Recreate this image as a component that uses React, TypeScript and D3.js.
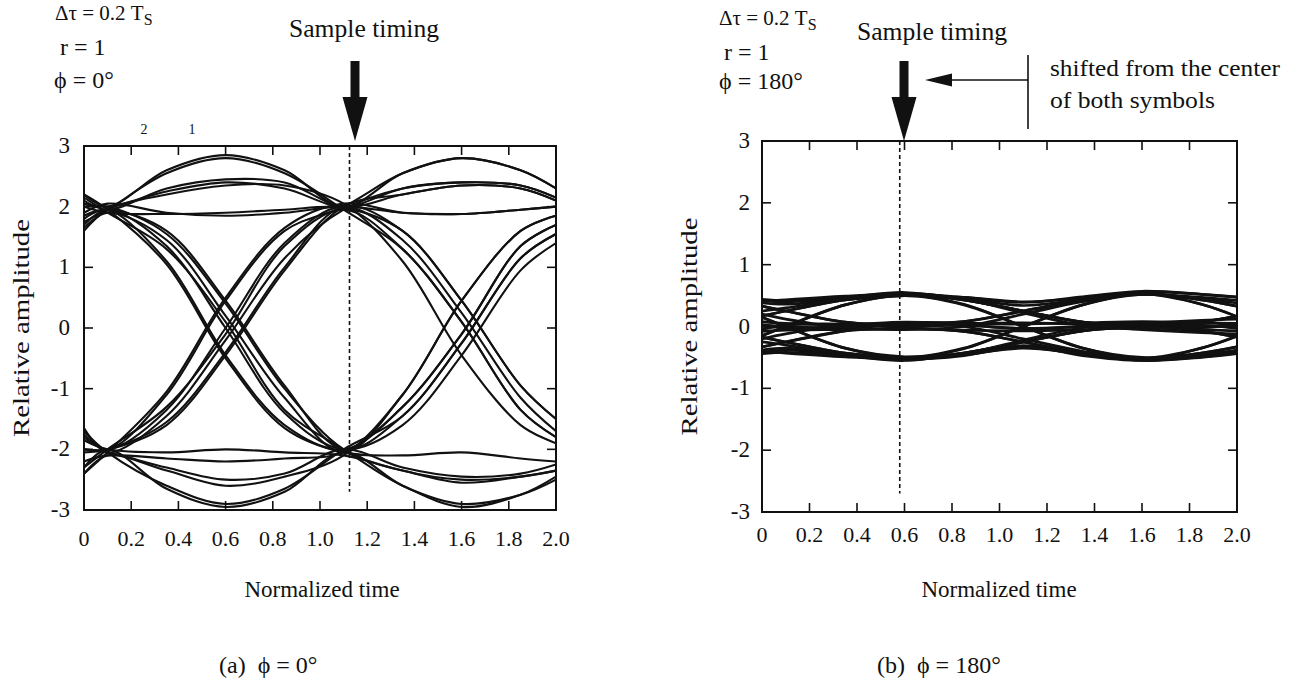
import React from "react";
import * as d3 from "d3";

// Sample instants (normalized time) at which each trace value was read
const TIMES = [0, 0.1, 0.35, 0.6, 0.85, 1.1, 1.35, 1.6, 1.85, 2.0];

// (a) phi = 0 deg : eye traces (relative amplitude at TIMES)
const TRACES_A: number[][] = [
  [2.2, 2.0, 2.6, 2.85, 2.6, 2.0, 2.55, 2.8, 2.6, 2.3],
  [1.75, 1.95, 2.55, 2.8, 2.55, 1.95, 1.3, 0.1, -1.35, -1.8],
  [2.05, 2.0, 2.25, 2.4, 2.3, 2.0, 2.3, 2.4, 2.35, 2.15],
  [1.6, 1.95, 2.2, 2.35, 2.35, 2.05, 1.1, -0.45, -1.6, -1.9],
  [2.1, 1.95, 2.3, 2.45, 2.4, 2.0, 2.2, 2.35, 2.3, 2.1],
  [1.9, 2.05, 1.9, 1.85, 1.9, 2.0, 1.9, 1.88, 1.95, 2.0],
  [2.0, 1.9, 1.88, 1.9, 1.95, 1.98, 1.6, 0.45, -0.95, -1.5],
  [1.8, 1.95, 1.1, -0.45, -1.6, -2.0, -1.3, -0.1, 1.35, 1.7],
  [2.15, 1.9, 1.3, 0.1, -1.35, -2.0, -2.6, -2.9, -2.75, -2.5],
  [1.65, 1.9, 1.45, 0.2, -1.15, -2.05, -1.1, 0.45, 1.6, 1.85],
  [2.0, 2.0, 1.55, 0.4, -1.0, -2.0, -2.35, -2.5, -2.45, -2.35],
  [1.7, 1.95, 1.35, 0.0, -1.4, -2.0, -1.6, -0.45, 0.95, 1.4],
  [2.2, 1.95, 1.05, -0.5, -1.65, -2.05, -2.1, -2.05, -2.15, -2.2],
  [1.85, 1.95, 1.6, 0.45, -0.95, -2.0, -1.45, -0.25, 1.15, 1.55],
  [-2.3, -2.0, -2.65, -2.95, -2.7, -2.05, -2.6, -2.95, -2.75, -2.45],
  [-1.7, -2.05, -2.6, -2.9, -2.65, -2.0, -1.45, -0.25, 1.15, 1.55],
  [-2.0, -2.05, -2.3, -2.5, -2.4, -2.0, -2.3, -2.45, -2.4, -2.25],
  [-2.4, -2.1, -2.35, -2.6, -2.45, -2.1, -1.1, 0.45, 1.6, 1.85],
  [-1.85, -2.0, -2.05, -2.0, -2.05, -2.1, -2.35, -2.55, -2.45, -2.35],
  [-2.2, -2.1, -2.15, -2.2, -2.15, -2.05, -1.3, -0.1, 1.35, 1.7],
  [-1.75, -2.0, -1.1, 0.45, 1.6, 2.0, 2.55, 2.8, 2.6, 2.3],
  [-2.3, -2.0, -1.3, -0.1, 1.35, 1.95, 1.3, 0.1, -1.35, -1.8],
  [-1.65, -2.05, -1.45, -0.2, 1.15, 1.95, 2.3, 2.4, 2.35, 2.15],
  [-2.05, -2.0, -1.55, -0.4, 1.0, 2.0, 1.6, 0.45, -0.95, -1.5],
  [-2.4, -2.05, -1.05, 0.5, 1.65, 2.05, 1.9, 1.88, 1.95, 2.0],
  [-1.8, -2.0, -1.35, 0.0, 1.4, 2.0, 1.45, 0.25, -1.15, -1.7],
  [-2.0, -2.0, -1.6, -0.45, 0.95, 2.0, 2.2, 2.35, 2.3, 2.1],
];

// (b) phi = 180 deg : eye traces
const TRACES_B: number[][] = [
  [0.42, 0.4, 0.46, 0.53, 0.47, 0.39, 0.48, 0.57, 0.52, 0.47],
  [0.17, 0.25, 0.43, 0.52, 0.43, 0.25, 0.07, 0.02, 0.08, 0.17],
  [-0.15, 0.0, 0.35, 0.5, 0.35, 0.0, -0.35, -0.52, -0.43, -0.33],
  [0.33, 0.25, 0.07, 0.02, 0.08, 0.25, 0.43, 0.55, 0.36, 0.16],
  [0.03, 0.0, -0.02, 0.04, 0.02, -0.03, 0.0, 0.05, 0.02, -0.02],
  [-0.42, -0.38, -0.47, -0.53, -0.47, -0.31, -0.47, -0.55, -0.49, -0.43],
  [-0.17, -0.25, -0.43, -0.52, -0.43, -0.25, -0.07, -0.02, -0.08, -0.17],
  [0.15, 0.0, -0.35, -0.5, -0.35, 0.0, 0.35, 0.53, 0.43, 0.33],
  [-0.33, -0.25, -0.07, -0.03, -0.08, -0.25, -0.43, -0.54, -0.35, -0.16],
  [0.44, 0.42, 0.47, 0.55, 0.43, 0.25, 0.07, 0.0, -0.02, 0.03],
  [-0.44, -0.42, -0.47, -0.55, -0.43, -0.25, -0.07, 0.0, 0.07, 0.17],
  [0.0, -0.02, 0.0, 0.05, 0.08, 0.25, 0.43, 0.56, 0.52, 0.48],
  [-0.05, 0.02, 0.04, -0.02, -0.08, -0.25, -0.43, -0.55, -0.5, -0.44],
  [0.33, 0.25, 0.07, 0.0, 0.02, -0.04, 0.0, 0.05, -0.07, -0.17],
  [-0.33, -0.25, -0.07, 0.06, 0.05, 0.06, 0.03, -0.04, 0.07, 0.17],
  [0.17, 0.25, 0.43, 0.5, 0.47, 0.4, 0.46, 0.53, 0.36, 0.16],
  [-0.17, -0.25, -0.43, -0.5, -0.46, -0.34, -0.45, -0.52, -0.35, -0.15],
  [0.15, 0.0, -0.35, -0.49, -0.43, -0.25, -0.07, 0.03, 0.02, -0.03],
  [-0.15, 0.0, 0.35, 0.51, 0.43, 0.25, 0.07, -0.03, 0.0, 0.04],
  [0.4, 0.43, 0.49, 0.52, 0.36, 0.0, -0.35, -0.5, -0.43, -0.33],
  [-0.4, -0.43, -0.49, -0.52, -0.36, 0.0, 0.35, 0.52, 0.43, 0.33],
  [0.38, 0.36, 0.44, 0.5, 0.45, 0.34, 0.44, 0.52, 0.47, 0.42],
  [-0.38, -0.35, -0.44, -0.5, -0.45, -0.35, -0.44, -0.52, -0.46, -0.4],
  [0.08, 0.05, 0.03, 0.07, 0.05, 0.04, 0.06, 0.08, 0.06, 0.05],
  [-0.08, -0.06, -0.05, -0.04, -0.06, -0.07, -0.05, -0.02, -0.05, -0.07],
  [0.25, 0.3, 0.45, 0.54, 0.44, 0.22, 0.02, -0.05, -0.1, -0.12],
  [-0.25, -0.3, -0.45, -0.54, -0.44, -0.22, -0.02, 0.05, 0.1, 0.12],
  [0.2, 0.12, -0.02, -0.05, 0.0, 0.2, 0.4, 0.52, 0.45, 0.38],
  [-0.2, -0.12, 0.02, 0.05, 0.0, -0.2, -0.4, -0.52, -0.45, -0.38],
];

const X_TICKS = [0, 0.2, 0.4, 0.6, 0.8, 1.0, 1.2, 1.4, 1.6, 1.8, 2.0];
const X_TICK_LABELS = ["0", "0.2", "0.4", "0.6", "0.8", "1.0", "1.2", "1.4", "1.6", "1.8", "2.0"];
const Y_TICKS = [3, 2, 1, 0, -1, -2, -3];
const Y_TICK_LABELS = ["3", "2", "1", "0", "-1", "-2", "-3"];

const SAMPLE_A = 1.125;
const SAMPLE_B = 0.58;

const FONT = "'Liberation Serif', 'Times New Roman', serif";

type PanelProps = {
  traces: number[][];
  xRange: [number, number];
  yRange: [number, number];
  sample: number;
  dashEnd: number;
  strokeW: number;
  id: string;
  yLabelX: number;
  yTitleX: number;
  xLabelY: number;
  xTitleX: number;
};

function Panel(p: PanelProps) {
  const x = d3.scaleLinear().domain([0, 2]).range(p.xRange);
  const y = d3.scaleLinear().domain([-3, 3]).range(p.yRange);
  const line = d3
    .line<number>()
    .x((_, i) => x(TIMES[i]))
    .y((d) => y(d))
    .curve(d3.curveCatmullRom.alpha(0.5));
  const [x0, x1] = p.xRange;
  const [yb, yt] = p.yRange;
  const tl = 9;
  const inner = X_TICKS.slice(1, -1);
  const innerY = Y_TICKS.slice(1, -1);
  return (
    <g>
      <defs>
        <clipPath id={p.id}>
          <rect x={x0} y={yt} width={x1 - x0} height={yb - yt} />
        </clipPath>
      </defs>
      <g clipPath={`url(#${p.id})`}>
        {p.traces.map((t, i) => (
          <path key={i} d={line(t) || ""} fill="none" stroke="#111" strokeWidth={p.strokeW} />
        ))}
      </g>
      <line
        x1={x(p.sample)}
        x2={x(p.sample)}
        y1={yt}
        y2={y(p.dashEnd)}
        stroke="#111"
        strokeWidth={1.6}
        strokeDasharray="4 3"
      />
      <rect x={x0} y={yt} width={x1 - x0} height={yb - yt} fill="none" stroke="#111" strokeWidth={2} />
      {inner.map((v) => (
        <g key={"xt" + v}>
          <line x1={x(v)} x2={x(v)} y1={yt} y2={yt + tl} stroke="#111" strokeWidth={1.6} />
          <line x1={x(v)} x2={x(v)} y1={yb} y2={yb - tl} stroke="#111" strokeWidth={1.6} />
        </g>
      ))}
      {innerY.map((v) => (
        <g key={"yt" + v}>
          <line x1={x0} x2={x0 + tl} y1={y(v)} y2={y(v)} stroke="#111" strokeWidth={1.6} />
          <line x1={x1} x2={x1 - tl} y1={y(v)} y2={y(v)} stroke="#111" strokeWidth={1.6} />
        </g>
      ))}
      {Y_TICKS.map((v, i) => (
        <text key={"yl" + v} x={p.yLabelX} y={y(v) + 7} textAnchor="end" fontSize={23} fontFamily={FONT} fill="#111">
          {Y_TICK_LABELS[i]}
        </text>
      ))}
      {X_TICKS.map((v, i) => (
        <text key={"xl" + v} x={x(v)} y={p.xLabelY} textAnchor="middle" fontSize={22} fontFamily={FONT} fill="#111">
          {X_TICK_LABELS[i]}
        </text>
      ))}
      <text
        transform={`translate(${p.yTitleX},${(yt + yb) / 2}) rotate(-90)`}
        textAnchor="middle"
        fontSize={24}
        fontFamily={FONT}
        fill="#111"
        textLength={218}
        lengthAdjust="spacingAndGlyphs"
      >
        Relative amplitude
      </text>
      <text x={p.xTitleX} y={597} textAnchor="middle" fontSize={23} fontFamily={FONT} fill="#111">
        Normalized time
      </text>
    </g>
  );
}

function DownArrow({ cx }: { cx: number }) {
  return (
    <g fill="#111">
      <rect x={cx - 4.5} y={61} width={9} height={38} />
      <polygon points={`${cx - 12.5},97 ${cx + 12.5},97 ${cx},141`} />
    </g>
  );
}

export default function App() {
  return (
    <svg width={1303} height={680} style={{ position: "absolute", left: 0, top: 0, background: "#fff" }}>
      <rect x={0} y={0} width={1303} height={680} fill="#fff" />
      {/* Panel (a) */}
      <Panel
        traces={TRACES_A}
        xRange={[84, 556]}
        yRange={[510, 146]}
        sample={SAMPLE_A}
        dashEnd={-2.7}
        strokeW={2.1}
        id="clipA"
        yLabelX={70}
        yTitleX={29}
        xLabelY={546}
        xTitleX={322}
      />
      {/* Panel (b) */}
      <Panel
        traces={TRACES_B}
        xRange={[762, 1237]}
        yRange={[512, 141]}
        sample={SAMPLE_B}
        dashEnd={-2.7}
        strokeW={2.7}
        id="clipB"
        yLabelX={750}
        yTitleX={697}
        xLabelY={542}
        xTitleX={999}
      />

      {/* annotations (a) */}
      <g fontFamily={FONT} fill="#111">
        <text x={55} y={20} fontSize={21}>
          Δτ = 0.2 T<tspan fontSize={16} dy={5}>S</tspan>
        </text>
        <text x={60} y={55} fontSize={24}>r = 1</text>
        <text x={54} y={88} fontSize={24}>ϕ = 0°</text>
        <text x={144} y={134} fontSize={14} textAnchor="middle">2</text>
        <text x={192} y={134} fontSize={14} textAnchor="middle">1</text>
        <text x={364} y={37} fontSize={25} textAnchor="middle" textLength={150} lengthAdjust="spacingAndGlyphs">
          Sample timing
        </text>
      </g>
      <DownArrow cx={355} />

      {/* annotations (b) */}
      <g fontFamily={FONT} fill="#111">
        <text x={719} y={25} fontSize={21}>
          Δτ = 0.2 T<tspan fontSize={16} dy={5}>S</tspan>
        </text>
        <text x={724} y={60} fontSize={24}>r = 1</text>
        <text x={719} y={89} fontSize={24}>ϕ = 180°</text>
        <text x={932} y={40} fontSize={25} textAnchor="middle" textLength={150} lengthAdjust="spacingAndGlyphs">
          Sample timing
        </text>
        <text x={1050} y={76} fontSize={24} textLength={230} lengthAdjust="spacingAndGlyphs">
          shifted from the center
        </text>
        <text x={1050} y={108} fontSize={24} textLength={165} lengthAdjust="spacingAndGlyphs">
          of both symbols
        </text>
      </g>
      <DownArrow cx={904} />
      <line x1={948} x2={1028} y1={80} y2={80} stroke="#111" strokeWidth={1.6} />
      <polygon points="925,80 952,73.5 952,86.5" fill="#111" />
      <line x1={1028} x2={1028} y1={55} y2={129} stroke="#111" strokeWidth={1.6} />

      {/* captions */}
      <g fontFamily={FONT} fill="#111" fontSize={24}>
        <text x={219} y={673}>
          (a)<tspan dx={12}>ϕ = 0°</tspan>
        </text>
        <text x={877} y={673}>
          (b)<tspan dx={12}>ϕ = 180°</tspan>
        </text>
      </g>
    </svg>
  );
}
